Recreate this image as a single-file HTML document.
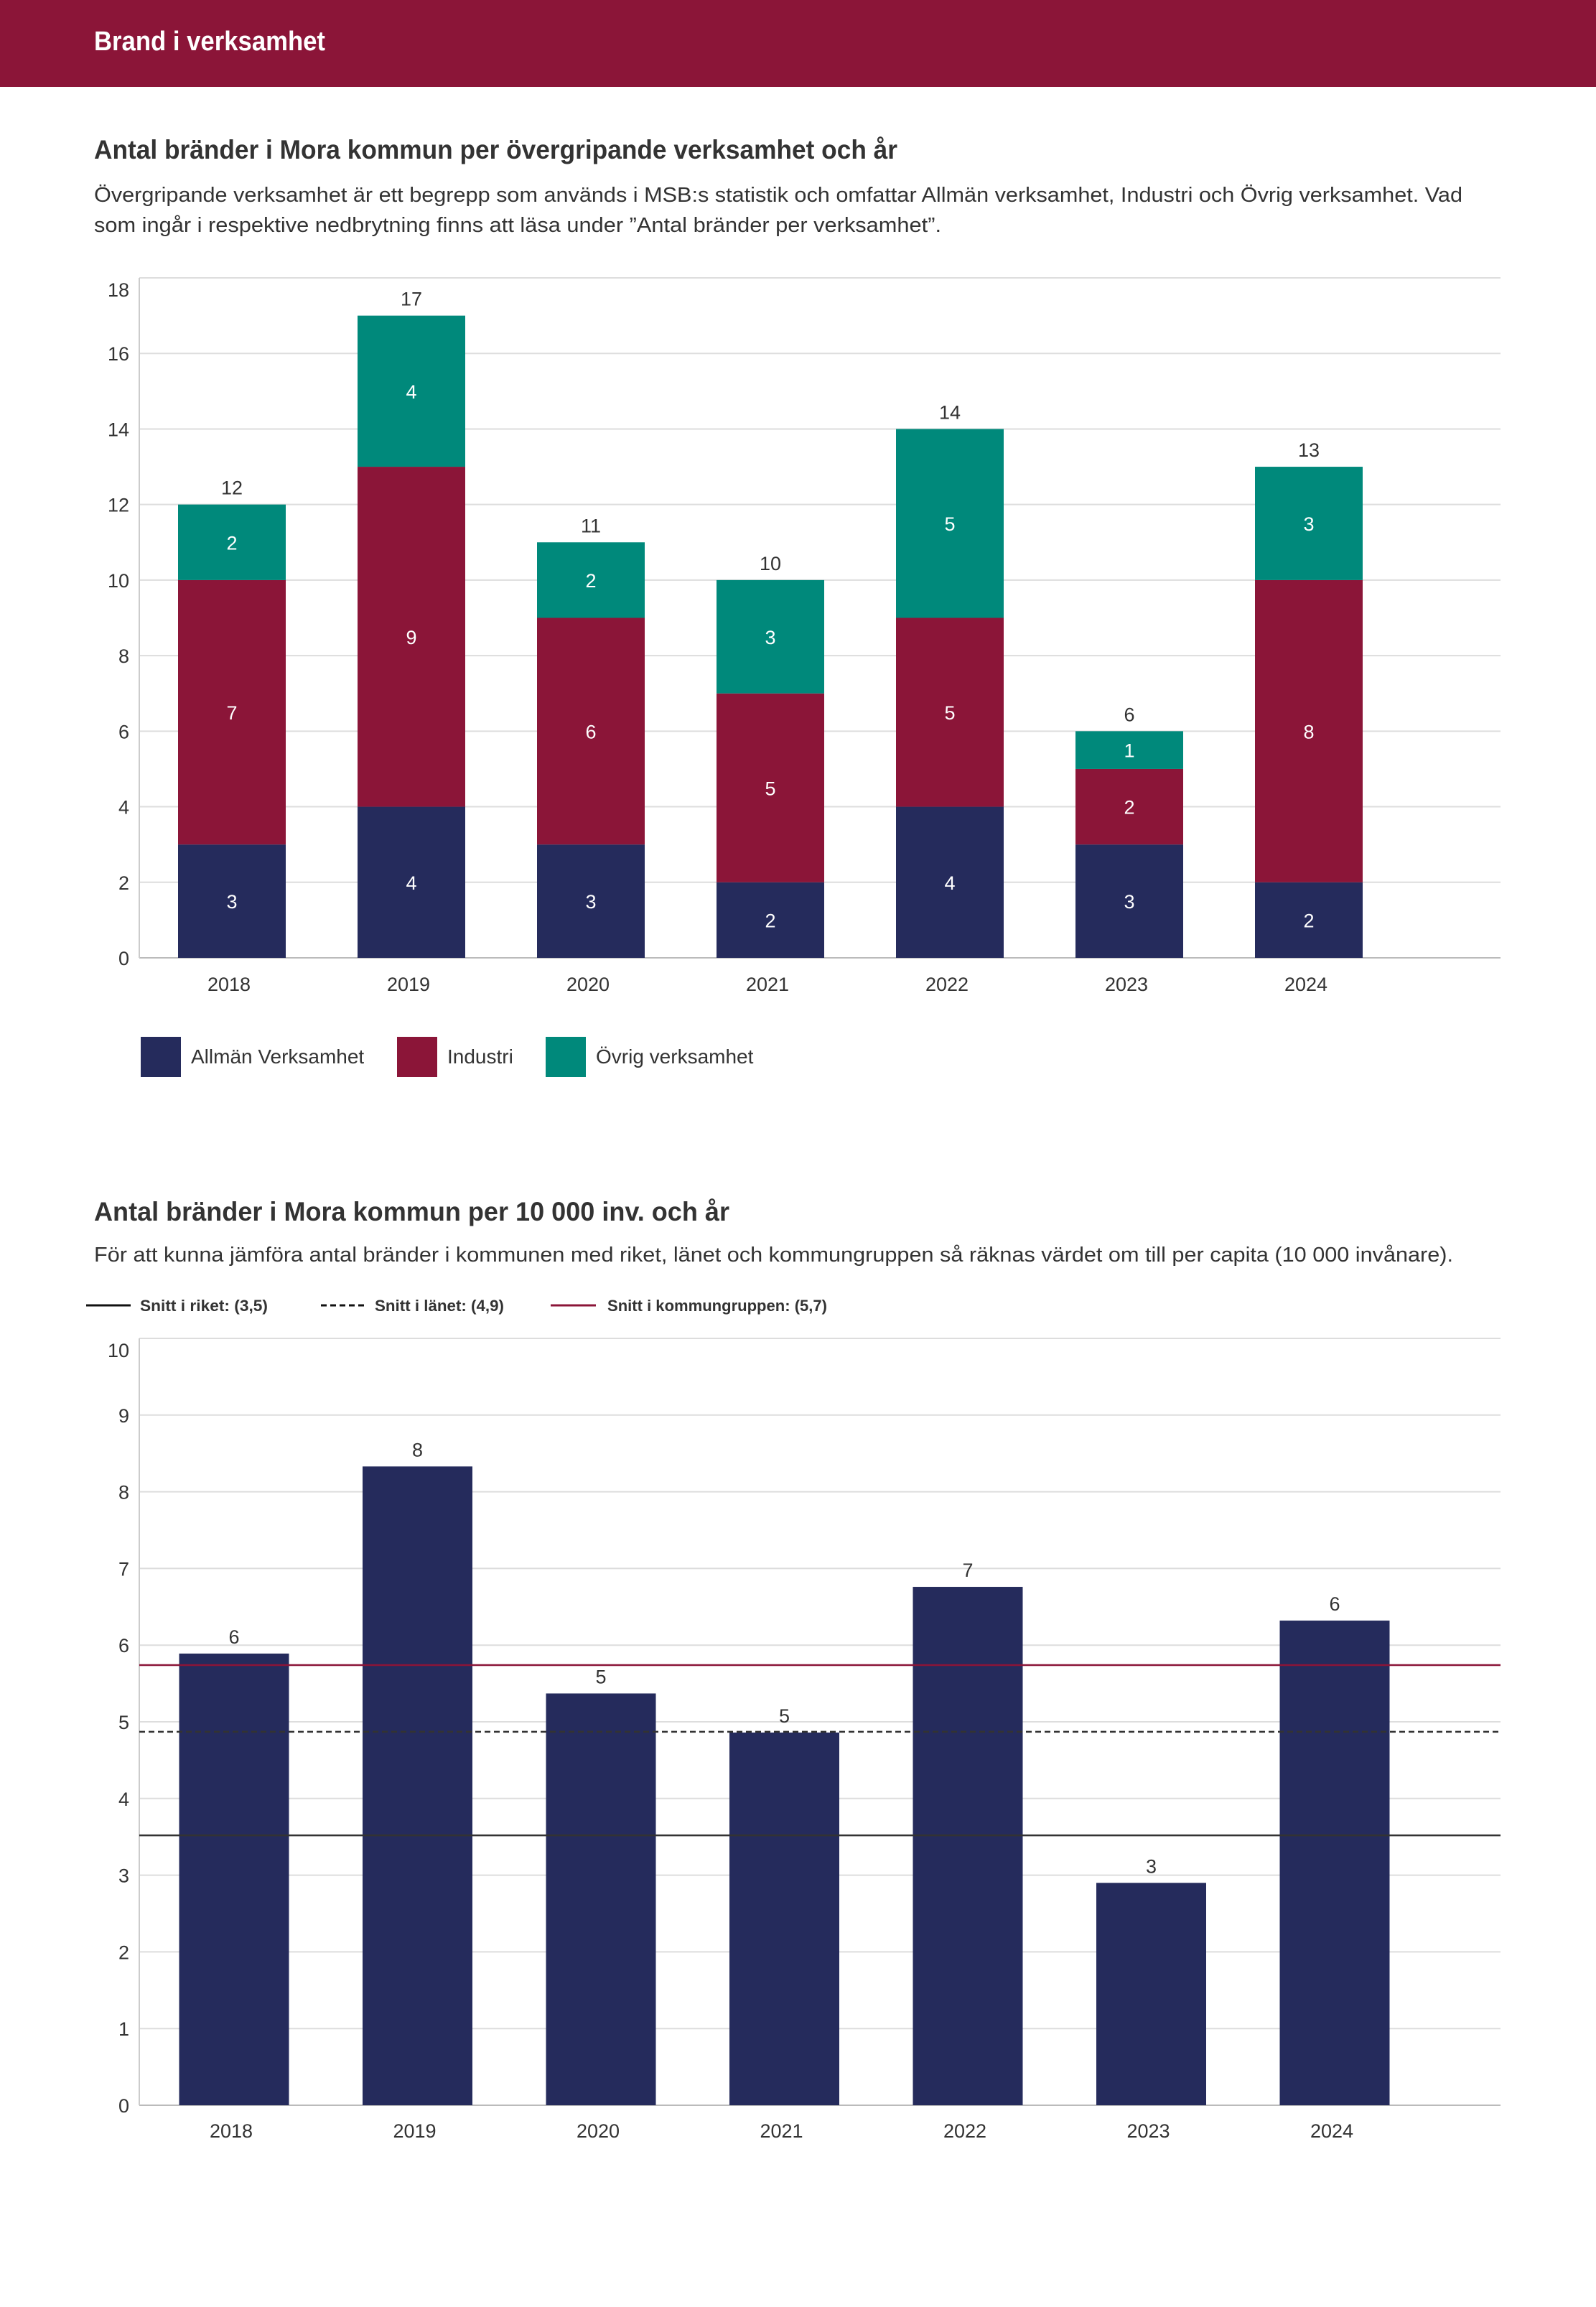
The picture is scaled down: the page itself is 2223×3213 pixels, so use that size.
<!DOCTYPE html>
<html><head><meta charset="utf-8"><style>
html,body{margin:0;padding:0;background:#fff}
svg{display:block}
text{font-family:"Liberation Sans",sans-serif;fill:#333}
</style></head><body>
<svg id="s" width="2223" height="3213" viewBox="0 0 2223 3213" xmlns="http://www.w3.org/2000/svg">
<rect x="0" y="0" width="2223" height="121" fill="#8B1538"/>
<text x="131" y="70" font-size="38" font-weight="bold" style="fill:#fff" textLength="322" lengthAdjust="spacingAndGlyphs">Brand i verksamhet</text>

<text x="131" y="221" font-size="37" font-weight="bold" textLength="1119" lengthAdjust="spacingAndGlyphs">Antal bränder i Mora kommun per övergripande verksamhet och år</text>
<text x="131" y="281" font-size="29" textLength="1906" lengthAdjust="spacingAndGlyphs">Övergripande verksamhet är ett begrepp som används i MSB:s statistik och omfattar Allmän verksamhet, Industri och Övrig verksamhet. Vad</text>
<text x="131" y="323" font-size="29" textLength="1180" lengthAdjust="spacingAndGlyphs">som ingår i respektive nedbrytning finns att läsa under ”Antal bränder per verksamhet”.</text>
<g id="c1"></g>
<g>
<rect x="196" y="1444" width="56" height="56" fill="#252B5C"/>
<text x="266" y="1481" font-size="28">Allmän Verksamhet</text>
<rect x="553" y="1444" width="56" height="56" fill="#8B1538"/>
<text x="623" y="1481" font-size="28">Industri</text>
<rect x="760" y="1444" width="56" height="56" fill="#00897B"/>
<text x="830" y="1481" font-size="28">Övrig verksamhet</text>
</g>

<text x="131" y="1700" font-size="37" font-weight="bold" textLength="885" lengthAdjust="spacingAndGlyphs">Antal bränder i Mora kommun per 10 000 inv. och år</text>
<text x="131" y="1757" font-size="29" textLength="1893" lengthAdjust="spacingAndGlyphs">För att kunna jämföra antal bränder i kommunen med riket, länet och kommungruppen så räknas värdet om till per capita (10 000 invånare).</text>
<g>
<line x1="120" y1="1818" x2="182" y2="1818" stroke="#111" stroke-width="3"/>
<text x="195" y="1826" font-size="22" font-weight="bold" textLength="178" lengthAdjust="spacingAndGlyphs">Snitt i riket: (3,5)</text>
<line x1="447" y1="1818" x2="508" y2="1818" stroke="#111" stroke-width="3" stroke-dasharray="8,5"/>
<text x="522" y="1826" font-size="22" font-weight="bold" textLength="180" lengthAdjust="spacingAndGlyphs">Snitt i länet: (4,9)</text>
<line x1="767" y1="1818" x2="830" y2="1818" stroke="#8B1538" stroke-width="3"/>
<text x="846" y="1826" font-size="22" font-weight="bold" textLength="306" lengthAdjust="spacingAndGlyphs">Snitt i kommungruppen: (5,7)</text>
</g>
<g id="c2"></g>
</svg>
<script>
const years = ["2018","2019","2020","2021","2022","2023","2024"];
const allman = [3,4,3,2,4,3,2];
const industri = [7,9,6,5,5,2,8];
const ovrig = [2,4,2,3,5,1,3];
const yTicks1 = [0,2,4,6,8,10,12,14,16,18];

const perCapita = [5.89,8.33,5.37,4.86,6.76,2.90,6.32];
const perCapitaLabels = ["6","8","5","5","7","3","6"];
const avgRiket = 3.52;
const avgLanet = 4.87;
const avgKommungrupp = 5.74;
const yTicks2 = [0,1,2,3,4,5,6,7,8,9,10];

const NS="http://www.w3.org/2000/svg";
function mk(parent,tag,attrs,txt){const e=document.createElementNS(NS,tag);for(const k in attrs)e.setAttribute(k,attrs[k]);if(txt!==undefined)e.textContent=txt;parent.appendChild(e);return e;}

function axes(g,yScale,ticks,x0,x1,top,bottom,xLabelY,xCenter){
  const maxT=ticks[ticks.length-1];
  ticks.forEach(t=>{
    const y=yScale(t);
    const gl=mk(g,'line',{x1:x0,y1:y,x2:x1,y2:y,stroke:t===0?'#bbb':'#ddd','stroke-width':2});
    
    
    const tl=mk(g,'text',{x:x0-14,y:y+(t===maxT?26:10),'font-size':27,'text-anchor':'end'},String(t));
    
    
  });
  const ax=mk(g,'line',{x1:x0,y1:top,x2:x0,y2:bottom,stroke:'#ccc','stroke-width':2});
  
  
  years.forEach((yr,i)=>{
    const xl=mk(g,'text',{x:xCenter(i)-4,y:xLabelY,'font-size':27,'text-anchor':'middle'},yr);
    
    
  });
}

// chart 1
(function(){
  const g=document.getElementById('c1');
  const x0=194,x1=2090,top=387,bottom=1334,max=18;
  const y=v=>bottom-(v/max)*(bottom-top);
  const xc=i=>323+i*250;
  const bw=150;
  axes(g,y,yTicks1,x0,x1,top,bottom,1380,xc);
  const series=[[allman,'#252B5C','allman'],[industri,'#8B1538','industri'],[ovrig,'#00897B','ovrig']];
  years.forEach((yr,i)=>{
    let base=0;
    series.forEach(([arr,col,nm])=>{
      const v=arr[i];
      const r=mk(g,'rect',{x:xc(i)-bw/2,y:y(base+v),width:bw,height:y(base)-y(base+v),fill:col});
      
      
      const t=mk(g,'text',{x:xc(i),y:(y(base)+y(base+v))/2+10,'font-size':27,'text-anchor':'middle',style:'fill:#fff'},String(v));
      
      
      base+=v;
    });
    const tt=mk(g,'text',{x:xc(i),y:y(base)-14,'font-size':27,'text-anchor':'middle'},String(base));
    
    
  });
})();

// chart 2
(function(){
  const g=document.getElementById('c2');
  const x0=194,x1=2090,top=1864,bottom=2932,max=10;
  const y=v=>bottom-(v/max)*(bottom-top);
  const xc=i=>326+i*255.5;
  const bw=153;
  axes(g,y,yTicks2,x0,x1,top,bottom,2977,xc);
  years.forEach((yr,i)=>{
    const v=perCapita[i];
    const r=mk(g,'rect',{x:xc(i)-bw/2,y:y(v),width:bw,height:bottom-y(v),fill:'#252B5C'});
    
    
    const t=mk(g,'text',{x:xc(i),y:y(v)-14,'font-size':27,'text-anchor':'middle'},perCapitaLabels[i]);
    
    
  });
  const l1=mk(g,'line',{x1:x0,y1:y(avgRiket),x2:x1,y2:y(avgRiket),stroke:'#333','stroke-width':2.5});
  
  
  const l2=mk(g,'line',{x1:x0,y1:y(avgLanet),x2:x1,y2:y(avgLanet),stroke:'#333','stroke-width':2.5,'stroke-dasharray':'8,5'});
  
  
  const l3=mk(g,'line',{x1:x0,y1:y(avgKommungrupp),x2:x1,y2:y(avgKommungrupp),stroke:'#8B1538','stroke-width':2.5});
  
  
})();
</script>
</body></html>
